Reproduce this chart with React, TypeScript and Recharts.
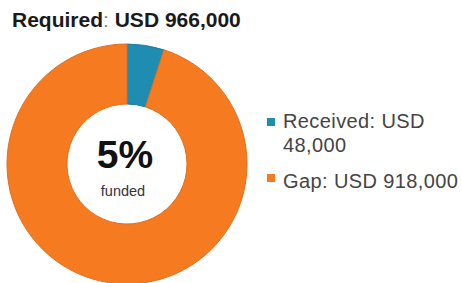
import { PieChart, Pie, Cell } from "recharts";

const categories = ["Received", "Gap"];
const amounts = [48000, 918000];
const required = "USD 966,000";
const legendLines = [["Received: USD", "48,000"], ["Gap: USD 918,000"]];
const fundedPct = "5%";
const colors = ["#1f8db2", "#f57a20"];
const strokes = ["#1a7fa1", "#e36f1c"];

const data = categories.map((name, i) => ({ name, value: amounts[i] }));

const font = "'Liberation Sans', Arial, sans-serif";

export default function App() {
  return (
    <div style={{ position: "absolute", left: 0, top: 0, width: 461, height: 283, background: "#fff", fontFamily: font }}>
      <PieChart width={461} height={283} margin={{ top: 0, right: 0, bottom: 0, left: 0 }}>
        <Pie
          data={data}
          dataKey="value"
          nameKey="name"
          cx={127}
          cy={164}
          outerRadius={120}
          innerRadius={60}
          startAngle={90}
          endAngle={-270}
          isAnimationActive={false}
        >
          {data.map((d, i) => (
            <Cell key={d.name} fill={colors[i]} stroke={strokes[i]} strokeWidth={1} />
          ))}
        </Pie>
      </PieChart>
      {/* texts laid over the chart */}
      <svg width={461} height={283} style={{ position: "absolute", left: 0, top: 0 }} fontFamily={font}>
        <text x={12} y={27} fontSize={21} fontWeight="bold" fill="#1a1a1a">
          Required<tspan fontWeight="normal" fill="#888">:</tspan> {required}
        </text>
        <text x={125} y={168} textAnchor="middle" fontSize={39} fontWeight="bold" fill="#111">
          {fundedPct}
        </text>
        <text x={123} y={196} textAnchor="middle" fontSize={14.5} fill="#333">
          funded
        </text>
        <rect x={267} y={118} width={8} height={8} fill={colors[0]} />
        <text x={283} y={128} fontSize={20} letterSpacing={0.4} fill="#444">{legendLines[0][0]}</text>
        <text x={283} y={152} fontSize={20} letterSpacing={0.4} fill="#444">{legendLines[0][1]}</text>
        <rect x={267} y={174} width={8} height={8} fill={colors[1]} />
        <text x={283} y={188} fontSize={20} letterSpacing={0.4} fill="#444">{legendLines[1][0]}</text>
      </svg>
    </div>
  );
}
